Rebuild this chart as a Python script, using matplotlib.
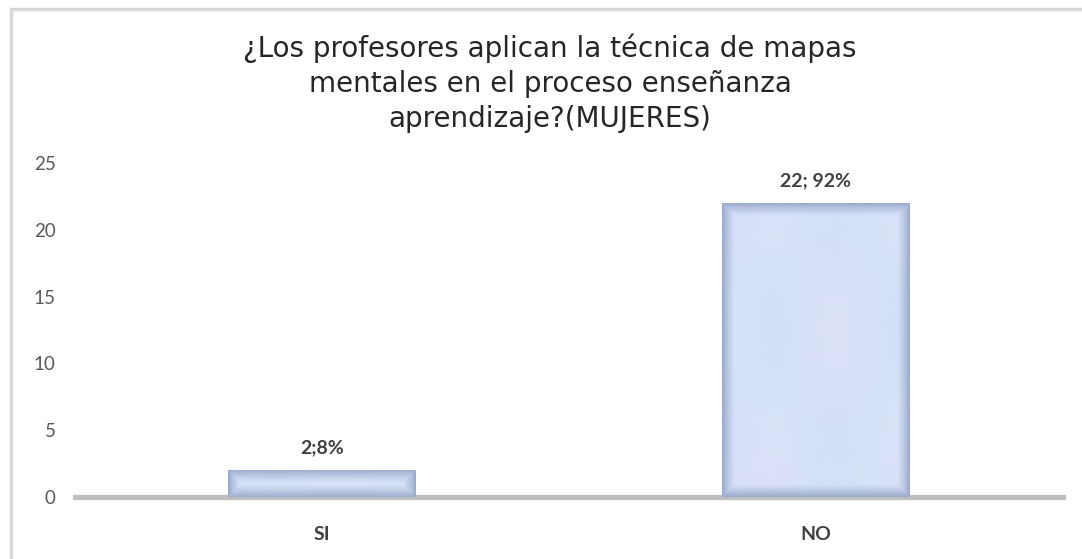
import numpy as np
import matplotlib
matplotlib.use("Agg")
import matplotlib.pyplot as plt
from matplotlib.patches import Rectangle

categories = ["SI", "NO"]
values = [2, 22]
labels = ["2;8%", "22; 92%"]
yticks = [0, 5, 10, 15, 20, 25]
title = "¿Los profesores aplican la técnica de mapas\nmentales en el proceso enseñanza\naprendizaje?(MUJERES)"

W, H = 1082, 559
fig = plt.figure(figsize=(W / 100, H / 100), dpi=100)
fig.patch.set_facecolor("white")

# outer chart border
fig.patches.append(Rectangle((11 / W, -0.1), 1.2, 1 - 9 / H + 0.1, transform=fig.transFigure,
                             fill=False, edgecolor="#d9d9d9", linewidth=2.5, zorder=0))

ax = fig.add_axes([75 / W, 1 - 497 / H, (1063 - 75) / W, (497 - 163) / H])
x = np.arange(len(categories))
bars = ax.bar(x, values, width=0.38, color="#d2def5", edgecolor="none", zorder=2)

# soft vignette fill inside each bar
for b in bars:
    x0, y0 = b.get_x(), b.get_y()
    w, h = b.get_width(), b.get_height()
    nx, ny = 160, 240
    gx = np.linspace(-1, 1, nx)
    gy = np.linspace(-1, 1, ny)
    X, Y = np.meshgrid(gx, gy)
    pix_w, pix_h = 188, max(h * 13.36, 1)
    dx = (1 - np.abs(X)) * pix_w / 2
    dy = (1 - np.abs(Y)) * pix_h / 2
    d = np.minimum(dx, dy)
    t = np.clip(d / 12.0, 0, 1) ** 0.8
    edge = np.array([0.60, 0.67, 0.80])
    centre = np.array([0.82, 0.88, 0.97])
    pink = np.array([0.89, 0.86, 0.97])
    cyan = np.array([0.84, 0.93, 0.98])
    m1 = 0.5 + 0.5 * np.sin(X * 4.0 + 0.7) * np.cos(Y * 3.0 - 0.4)
    m2 = 0.5 + 0.5 * np.cos(X * 5.0 - 1.0) * np.sin(Y * 4.5 + 0.9)
    inner = (centre[None, None, :] * (1 - 0.45 * m1[..., None] - 0.25 * m2[..., None])
             + pink[None, None, :] * (0.45 * m1[..., None])
             + cyan[None, None, :] * (0.25 * m2[..., None]))
    img = edge[None, None, :] * (1 - t[..., None]) + inner * t[..., None]
    im = ax.imshow(np.clip(img, 0, 1), extent=(x0, x0 + w, y0, y0 + h), origin="lower",
                   aspect="auto", zorder=3, interpolation="bilinear")
    im.set_clip_path(b)

for xi, v, lab in zip(x, values, labels):
    ax.annotate(lab, (xi, v), xytext=(0, 10), textcoords="offset points",
                ha="center", va="bottom", fontsize=14, fontweight="bold",
                color="#404040", family="Lato")

ax.set_xlim(-0.5, 1.5)
ax.set_ylim(0, 25)
ax.set_yticks(yticks)
ax.set_yticklabels([str(t) for t in yticks], fontsize=13.5, color="#595959", family="Lato")
ax.set_xticks(x)
ax.set_xticklabels(categories, fontsize=14, fontweight="bold", color="#404040", family="Lato")
ax.tick_params(axis="y", length=0, pad=14)
ax.tick_params(axis="x", length=0, pad=21)
for s in ["top", "right", "left"]:
    ax.spines[s].set_visible(False)
ax.spines["bottom"].set_color("#bfbfbf")
ax.spines["bottom"].set_linewidth(3.8)
ax.spines["bottom"].set_zorder(1)
ax.patch.set_alpha(0)

fig.text(550 / W, 1 - 83 / H, title, ha="center", va="center", fontsize=20,
         color="#262626", family="DejaVu Sans", linespacing=1.32)

fig.savefig("out.png", dpi=100)
